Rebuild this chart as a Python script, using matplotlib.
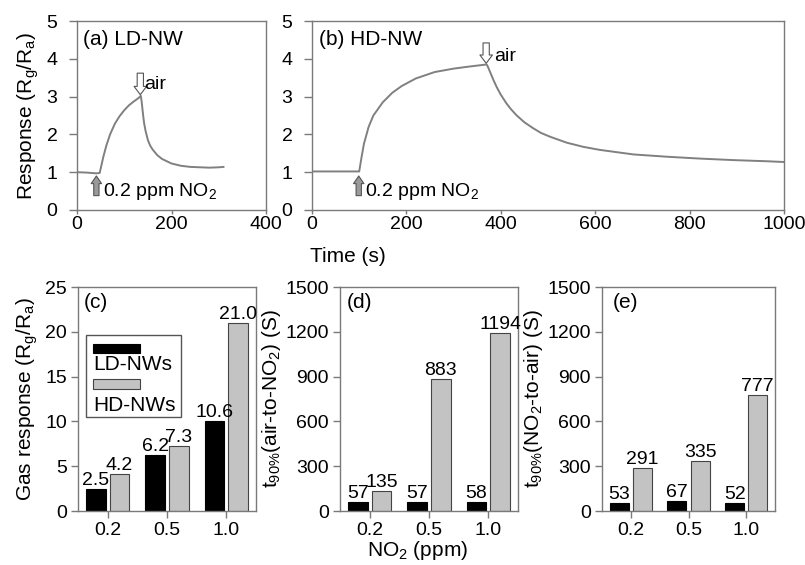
import matplotlib
matplotlib.use("Agg")
import matplotlib.pyplot as plt
import numpy as np
from matplotlib.patches import Rectangle

plt.rcParams['font.family'] = ['Liberation Sans', 'DejaVu Sans']
plt.rcParams['mathtext.fontset'] = 'custom'
plt.rcParams['mathtext.rm'] = 'Liberation Sans'
plt.rcParams['mathtext.it'] = 'Liberation Sans:italic'
plt.rcParams['mathtext.bf'] = 'Liberation Sans:bold'

# ---------------- data ----------------
# (a) LD-NW transient
t_a = [0, 20, 41, 48, 52, 56, 62, 70, 80, 90, 100, 110, 120, 130, 135,
       137, 140, 142, 145, 150, 155, 160, 170, 180, 200, 220, 240, 260, 280, 300, 310]
r_a = [1.0, 0.99, 0.97, 0.98, 1.2, 1.42, 1.7, 2.0, 2.28, 2.48, 2.64, 2.77, 2.87, 2.96, 3.02,
       2.85, 2.5, 2.3, 2.1, 1.85, 1.7, 1.6, 1.45, 1.35, 1.23, 1.17, 1.14, 1.13, 1.12, 1.13, 1.14]
# (b) HD-NW transient
t_b = [0, 50, 100, 105, 110, 120, 130, 150, 170, 190, 220, 260, 300, 330, 370,
       373, 377, 384, 391, 400, 412, 422, 433, 450, 469, 485, 504, 540, 575, 610,
       681, 751, 822, 893, 963, 1000]
r_b = [1.02, 1.02, 1.02, 1.4, 1.75, 2.2, 2.5, 2.85, 3.1, 3.28, 3.48, 3.65, 3.74, 3.79, 3.85,
       3.78, 3.66, 3.45, 3.26, 3.05, 2.82, 2.66, 2.51, 2.32, 2.16, 2.04, 1.94, 1.78, 1.67, 1.59,
       1.47, 1.41, 1.36, 1.32, 1.29, 1.27]

conc = ['0.2', '0.5', '1.0']
series = ['LD-NWs', 'HD-NWs']
# (c) gas response
resp_ld = [2.45, 6.2, 10.05]
resp_hd = [4.15, 7.3, 20.95]
resp_ld_lbl = ['2.5', '6.2', '10.6']
resp_hd_lbl = ['4.2', '7.3', '21.0']
# (d) t90 air-to-NO2
t90_in_ld = [57, 57, 58]
t90_in_hd = [135, 883, 1194]
# (e) t90 NO2-to-air
t90_out_ld = [53, 67, 52]
t90_out_hd = [291, 335, 777]

# ---------------- figure ----------------
W, H = 805, 565
fig = plt.figure(figsize=(W / 100, H / 100), dpi=100)

def add_ax(l, r, t, b):
    return fig.add_axes([l / W, (H - b) / H, (r - l) / W, (b - t) / H])

SP = '#7a7a7a'
TICK_FS = 14
LAB_FS = 15

def style(ax, top=False):
    for s in ax.spines.values():
        s.set_color(SP)
        s.set_linewidth(1.0)
    ax.tick_params(direction='out', width=1.0, color=SP,
                   labelsize=TICK_FS, top=False, right=False)
    if top:
        ax.tick_params(axis='x', length=3, pad=1)
        ax.tick_params(axis='y', length=6, pad=8)
    else:
        ax.tick_params(axis='both', length=5, pad=3)

ax_a = add_ax(77, 266, 21, 210)
ax_b = add_ax(312, 784, 21, 210)
ax_c = add_ax(78, 256, 287, 511)
ax_d = add_ax(340, 518, 287, 511)
ax_e = add_ax(602, 775, 287, 511)

LC = '#808080'
# (a)
ax_a.plot(t_a, r_a, color=LC, lw=1.4)
ax_a.set_xlim(0, 400)
ax_a.set_ylim(0, 5)
ax_a.set_xticks([0, 200, 400])
ax_a.set_yticks(range(6))
style(ax_a, top=True)
ax_a.set_ylabel('Response (R$_\\mathregular{g}$/R$_\\mathregular{a}$)', fontsize=LAB_FS, labelpad=4)
ax_a.text(0.03, 0.9, '(a) LD-NW', transform=ax_a.transAxes, fontsize=LAB_FS, va='center')

# (b)
ax_b.plot(t_b, r_b, color=LC, lw=1.4)
ax_b.set_xlim(0, 1000)
ax_b.set_ylim(0, 5)
ax_b.set_xticks(range(0, 1001, 200))
ax_b.set_yticks(range(6))
style(ax_b, top=True)
ax_b.text(0.015, 0.9, '(b) HD-NW', transform=ax_b.transAxes, fontsize=LAB_FS, va='center')

def up_arrow(ax, x, y0, y1):
    ax.annotate('', xy=(x, y1), xytext=(x, y0),
                arrowprops=dict(arrowstyle='simple,head_width=0.75,head_length=0.55,tail_width=0.38',
                                fc='#9a9a9a', ec='#555555', lw=0.8, shrinkA=0, shrinkB=0,
                                mutation_scale=10))

def down_arrow(ax, x, y0, y1):
    ax.annotate('', xy=(x, y1), xytext=(x, y0),
                arrowprops=dict(arrowstyle='simple,head_width=0.9,head_length=0.6,tail_width=0.45',
                                fc='white', ec='#555555', lw=0.8, shrinkA=0, shrinkB=0,
                                mutation_scale=10))

ANN_FS = 14
up_arrow(ax_a, 41, 0.38, 0.9)
ax_a.text(55, 0.5, '0.2 ppm NO$_\\mathregular{2}$', fontsize=ANN_FS, va='center')
down_arrow(ax_a, 134, 3.62, 3.05)
ax_a.text(143, 3.32, 'air', fontsize=ANN_FS, va='center')

up_arrow(ax_b, 99, 0.38, 0.9)
ax_b.text(113, 0.5, '0.2 ppm NO$_\\mathregular{2}$', fontsize=ANN_FS, va='center')
down_arrow(ax_b, 369, 4.42, 3.88)
ax_b.text(386, 4.07, 'air', fontsize=ANN_FS, va='center')

fig.text(348 / W, 1 - 256 / H, 'Time (s)', fontsize=LAB_FS, ha='center', va='center')

# bars
x = np.arange(len(conc))
bw = 0.33
off = 0.2
C_LD = 'black'
C_HD = '#c3c3c3'
EC_HD = '#444444'

def bars(ax, ld, hd, ld_lbl, hd_lbl, ymax, yticks, dy):
    ax.bar(x - off, ld, bw, color=C_LD, edgecolor='black', lw=0.8, label=series[0])
    ax.bar(x + off, hd, bw, color=C_HD, edgecolor=EC_HD, lw=0.8, label=series[1])
    for i in range(len(x)):
        ax.text(x[i] - off, ld[i] + dy, ld_lbl[i], ha='center', va='bottom', fontsize=TICK_FS)
        ax.text(x[i] + off, hd[i] + dy, hd_lbl[i], ha='center', va='bottom', fontsize=TICK_FS)
    ax.set_xlim(-0.5, 2.5)
    ax.set_ylim(0, ymax)
    ax.set_yticks(yticks)
    ax.set_xticks(x)
    ax.set_xticklabels(conc)
    style(ax)

bars(ax_c, resp_ld, resp_hd, resp_ld_lbl, resp_hd_lbl, 25, range(0, 26, 5), 0.0)
bars(ax_d, t90_in_ld, t90_in_hd, [str(v) for v in t90_in_ld], [str(v) for v in t90_in_hd],
     1500, range(0, 1501, 300), 0)
bars(ax_e, t90_out_ld, t90_out_hd, [str(v) for v in t90_out_ld], [str(v) for v in t90_out_hd],
     1500, range(0, 1501, 300), 0)

ax_c.set_ylabel('Gas response (R$_\\mathregular{g}$/R$_\\mathregular{a}$)', fontsize=LAB_FS, labelpad=4)
ax_d.set_ylabel('t$_\\mathregular{90\\%}$(air-to-NO$_\\mathregular{2}$) (S)', fontsize=LAB_FS, labelpad=2)
ax_e.set_ylabel('t$_\\mathregular{90\\%}$(NO$_\\mathregular{2}$-to-air) (S)', fontsize=LAB_FS, labelpad=2)
fig.text(418 / W, 1 - 551 / H, 'NO$_\\mathregular{2}$ (ppm)', fontsize=LAB_FS, ha='center', va='center')

ax_c.text(0.03, 0.93, '(c)', transform=ax_c.transAxes, fontsize=LAB_FS, va='center')
ax_d.text(0.04, 0.93, '(d)', transform=ax_d.transAxes, fontsize=LAB_FS, va='center')
ax_e.text(0.06, 0.93, '(e)', transform=ax_e.transAxes, fontsize=LAB_FS, va='center')

# custom legend in (c): patch above label
ax_c.add_patch(Rectangle((0.045, 0.42), 0.534, 0.366, transform=ax_c.transAxes,
                         fill=False, ec='#555555', lw=1.0))
ax_c.add_patch(Rectangle((0.084, 0.705), 0.264, 0.041, transform=ax_c.transAxes,
                         fc=C_LD, ec='black', lw=0.8))
ax_c.text(0.084, 0.652, series[0], transform=ax_c.transAxes, fontsize=LAB_FS, va='center')
ax_c.add_patch(Rectangle((0.084, 0.545), 0.264, 0.044, transform=ax_c.transAxes,
                         fc=C_HD, ec=EC_HD, lw=0.8))
ax_c.text(0.084, 0.469, series[1], transform=ax_c.transAxes, fontsize=LAB_FS, va='center')

fig.savefig('out.png', dpi=100)
